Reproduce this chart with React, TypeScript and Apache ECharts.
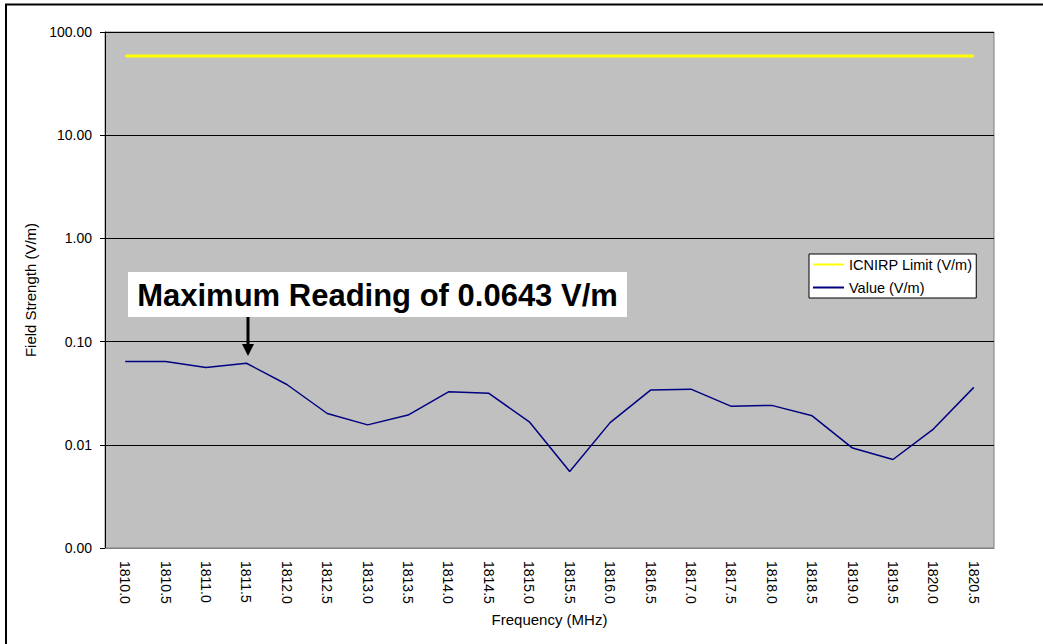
import React, { useEffect, useRef } from "react";
import * as echarts from "echarts";

const categories = [
  "1810.0", "1810.5", "1811.0", "1811.5", "1812.0", "1812.5", "1813.0", "1813.5",
  "1814.0", "1814.5", "1815.0", "1815.5", "1816.0", "1816.5", "1817.0", "1817.5",
  "1818.0", "1818.5", "1819.0", "1819.5", "1820.0", "1820.5",
];

const limitValues = [
  58.5, 58.5, 58.5, 58.5, 58.5, 58.5, 58.5, 58.5, 58.5, 58.5, 58.5,
  58.5, 58.5, 58.5, 58.5, 58.5, 58.5, 58.5, 58.5, 58.5, 58.5, 58.5,
];

const readingValues = [
  0.0643, 0.064, 0.0561, 0.0617, 0.0384, 0.0201, 0.0156, 0.0194, 0.0326, 0.0315, 0.0167,
  0.0055, 0.0164, 0.0339, 0.0346, 0.0236, 0.0241, 0.0191, 0.0093, 0.0072, 0.0142, 0.036,
];

const seriesNames = ["ICNIRP Limit (V/m)", "Value (V/m)"];
const annotationText = "Maximum Reading of 0.0643 V/m";
const FONT = "'Liberation Sans', Arial, sans-serif";

export default function App() {
  const ref = useRef<HTMLDivElement>(null);
  useEffect(() => {
    if (!ref.current) return;
    const chart = echarts.init(ref.current, null, { renderer: "svg" });
    chart.setOption({
      animation: false,
      backgroundColor: "#ffffff",
      textStyle: { fontFamily: FONT },
      grid: {
        left: 105,
        top: 32,
        right: 49,
        bottom: 96,
        show: true,
        backgroundColor: "#C0C0C0",
        borderColor: "#808080",
        borderWidth: 1,
      },
      legend: {
        orient: "vertical",
        left: 809,
        top: 254,
        backgroundColor: "#ffffff",
        borderColor: "#000000",
        borderWidth: 1,
        borderRadius: 0,
        padding: [3, 4, 3, 3],
        itemGap: 8,
        itemWidth: 31,
        itemHeight: 14,
        itemStyle: { opacity: 0 },
        textStyle: { fontFamily: FONT, fontSize: 14.5, color: "#000" },
        data: seriesNames,
      },
      xAxis: {
        type: "category",
        data: categories,
        boundaryGap: true,
        name: "Frequency (MHz)",
        nameLocation: "middle",
        nameGap: 63,
        nameTextStyle: { fontFamily: FONT, fontSize: 15, color: "#000" },
        axisLine: { show: true, lineStyle: { color: "#808080", width: 1 } },
        axisTick: { show: false },
        axisLabel: {
          rotate: -90,
          margin: 13,
          interval: 0,
          fontFamily: FONT,
          fontSize: 14,
          color: "#000",
        },
        splitLine: { show: false },
      },
      yAxis: {
        type: "log",
        logBase: 10,
        min: 0.001,
        max: 100,
        name: "Field Strength (V/m)",
        nameLocation: "middle",
        nameGap: 67,
        nameTextStyle: { fontFamily: FONT, fontSize: 15, color: "#000" },
        axisLine: { show: true, lineStyle: { color: "#000", width: 1 } },
        axisTick: { show: true, length: 5, lineStyle: { color: "#000" } },
        axisLabel: {
          margin: 13,
          fontFamily: FONT,
          fontSize: 14,
          color: "#000",
          formatter: (v: number) => v.toFixed(2),
        },
        splitLine: { show: true, lineStyle: { color: "#000", width: 1 } },
      },
      series: [
        {
          name: seriesNames[0],
          type: "line",
          data: limitValues,
          symbol: "none",
          lineStyle: { color: "#FFFF00", width: 3 },
          itemStyle: { color: "#FFFF00" },
        },
        {
          name: seriesNames[1],
          type: "line",
          data: readingValues,
          symbol: "none",
          lineStyle: { color: "#000080", width: 1.5 },
          itemStyle: { color: "#000080" },
        },
      ],
      graphic: [
        {
          type: "rect",
          shape: { x: 6, y: 4.5, width: 1200, height: 800 },
          style: { fill: "none", stroke: "#000", lineWidth: 2 },
          silent: true,
        },
        {
          type: "rect",
          shape: { x: 128, y: 272, width: 499, height: 45 },
          style: { fill: "#ffffff", stroke: "none" },
          z: 100,
        },
        {
          type: "text",
          x: 377.5,
          y: 295,
          style: {
            text: annotationText,
            font: "bold 31px " + FONT,
            fill: "#000",
            align: "center",
            verticalAlign: "middle",
          },
          z: 101,
        },
        {
          type: "line",
          shape: { x1: 248, y1: 317, x2: 248, y2: 346 },
          style: { stroke: "#000", lineWidth: 3 },
          z: 101,
        },
        {
          type: "polygon",
          shape: { points: [[242, 344], [254, 344], [248, 356]] },
          style: { fill: "#000" },
          z: 101,
        },
      ],
    });
    return () => chart.dispose();
  }, []);
  return (
    <div
      ref={ref}
      style={{ position: "fixed", left: 0, top: 0, width: 1043, height: 644 }}
    />
  );
}
